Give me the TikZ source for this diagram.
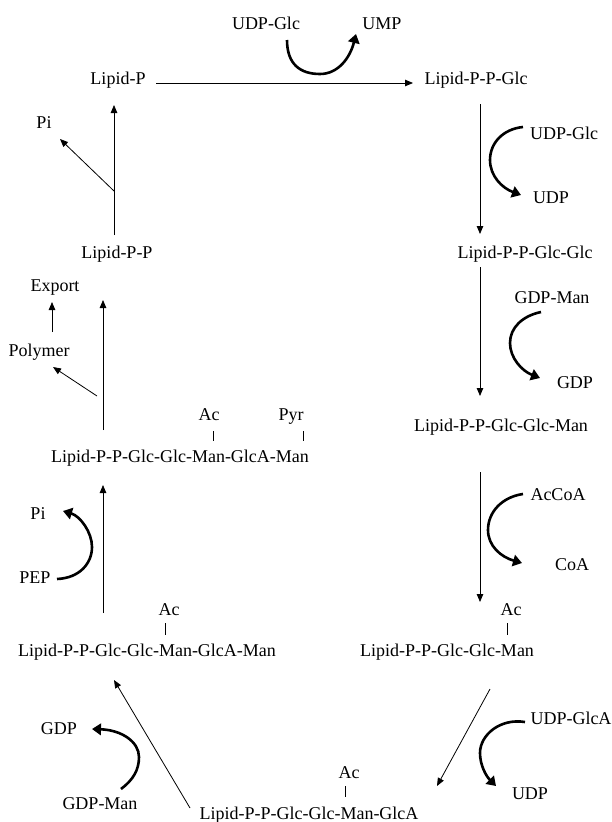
\documentclass[tikz,border=0pt]{standalone}
\usepackage{fontspec}
\setmainfont{Liberation Serif}
\usetikzlibrary{arrows.meta}
\begin{document}
\begin{tikzpicture}[x=1pt,y=-1pt,
  lbl/.style={inner sep=0pt, text height=12.3pt, text depth=0pt, font=\fontsize{18}{20}\selectfont},
  thinarr/.style={line width=0.8pt, -{Triangle[width=6.5pt,length=8pt]}},
  thickarr/.style={line width=2.6pt, -{Triangle[width=11.5pt,length=9pt]}},
  tickmark/.style={line width=0.9pt}]
\useasboundingbox (0,0) rectangle (611,822);
% labels
\node[lbl] (udpglc1) at (266,23) {UDP-Glc};
\node[lbl] (ump) at (382,23) {UMP};
\node[lbl] (lipidP) at (118,78) {Lipid-P};
\node[lbl] (lppg) at (476,78) {Lipid-P-P-Glc};
\node[lbl] (pi1) at (44,122) {Pi};
\node[lbl] (udpglc2) at (564,133) {UDP-Glc};
\node[lbl] (udp1) at (551,197) {UDP};
\node[lbl] (lpp) at (117,252) {Lipid-P-P};
\node[lbl] (lppgg) at (525,252) {Lipid-P-P-Glc-Glc};
\node[lbl] (export) at (55,285) {Export};
\node[lbl] (gdpman1) at (552,297) {GDP-Man};
\node[lbl] (polymer) at (39,350) {Polymer};
\node[lbl] (gdp1) at (575,382) {GDP};
\node[lbl] (ac1) at (209,414) {Ac};
\node[lbl] (pyr) at (291,414) {Pyr};
\node[lbl] (lppggm) at (501,425) {Lipid-P-P-Glc-Glc-Man};
\node[lbl] (long1) at (180,456) {Lipid-P-P-Glc-Glc-Man-GlcA-Man};
\node[lbl] (accoa) at (558,494) {AcCoA};
\node[lbl] (pi2) at (38,513) {Pi};
\node[lbl] (coa) at (572,564) {CoA};
\node[lbl] (pep) at (35,577) {PEP};
\node[lbl] (ac2) at (169,609) {Ac};
\node[lbl] (ac3) at (511,609) {Ac};
\node[lbl] (long2) at (147,650) {Lipid-P-P-Glc-Glc-Man-GlcA-Man};
\node[lbl] (lppggmac) at (447,650) {Lipid-P-P-Glc-Glc-Man};
\node[lbl] (udpglca) at (571,718) {UDP-GlcA};
\node[lbl] (gdp2) at (59,728) {GDP};
\node[lbl] (ac4) at (349,772) {Ac};
\node[lbl] (udp2) at (530,793) {UDP};
\node[lbl] (gdpman2) at (100,803) {GDP-Man};
\node[lbl] (long3) at (309,813) {Lipid-P-P-Glc-Glc-Man-GlcA};
% ticks
\draw[tickmark] (213,431) -- (213,441);
\draw[tickmark] (303,431) -- (303,441);
\draw[tickmark] (165,623) -- (165,635);
\draw[tickmark] (507,623) -- (507,635);
\draw[tickmark] (345,786) -- (345,797);
% connector end points
\coordinate (h1s) at (156,83); \coordinate (h1e) at (413,83);
\coordinate (v1s) at (114,235); \coordinate (v1e) at (114,105);
\coordinate (b1) at (114,191); \coordinate (pi1e) at (60,139);
\coordinate (r1s) at (480,104); \coordinate (r1e) at (480,234);
\coordinate (r2s) at (480,267); \coordinate (r2e) at (480,396);
\coordinate (r3s) at (480,472); \coordinate (r3e) at (480,602);
\coordinate (d1s) at (490,689); \coordinate (d1e) at (437,786);
\coordinate (d2s) at (190,808); \coordinate (d2e) at (114,680);
\coordinate (l1s) at (103,613); \coordinate (l1e) at (103,485);
\coordinate (l2s) at (103,430); \coordinate (l2e) at (103,300);
\coordinate (polys) at (97,396); \coordinate (polye) at (53,367);
\coordinate (exps) at (52,332); \coordinate (expe) at (52,302);
% thin arrows
\draw[thinarr] (h1s) -- (h1e);
\draw[thinarr] (v1s) -- (v1e);
\draw[thinarr] (b1) -- (pi1e);
\draw[thinarr] (r1s) -- (r1e);
\draw[thinarr] (r2s) -- (r2e);
\draw[thinarr] (r3s) -- (r3e);
\draw[thinarr] (d1s) -- (d1e);
\draw[thinarr] (d2s) -- (d2e);
\draw[thinarr] (l1s) -- (l1e);
\draw[thinarr] (l2s) -- (l2e);
\draw[thinarr] (polys) -- (polye);
\draw[thinarr] (exps) -- (expe);
% thick curved arrows
\draw[thickarr] (287,40) .. controls (287,64) and (300,74) .. (320,74) .. controls (338,74) and (350,58) .. (356,34);
\draw[thickarr] (523,127) .. controls (503,129) and (490,143) .. (490,160) .. controls (490,176) and (502,188) .. (521,195);
\draw[thickarr] (541,312) .. controls (522,316) and (510,328) .. (510,343) .. controls (510,358) and (522,371) .. (540,378);
\draw[thickarr] (523,494) .. controls (502,497) and (488,512) .. (488,530) .. controls (488,546) and (501,557) .. (522,563);
\draw[thickarr] (525,722) .. controls (500,718) and (480,735) .. (480,753) .. controls (480,765) and (486,776) .. (496,786);
\draw[thickarr] (57,579) .. controls (80,578) and (92,563) .. (92,547) .. controls (92,532) and (80,516) .. (63,511);
\draw[thickarr] (121,789) .. controls (133,780) and (139,770) .. (139,757) .. controls (139,742) and (122,730) .. (92,729);
\end{tikzpicture}
\end{document}
